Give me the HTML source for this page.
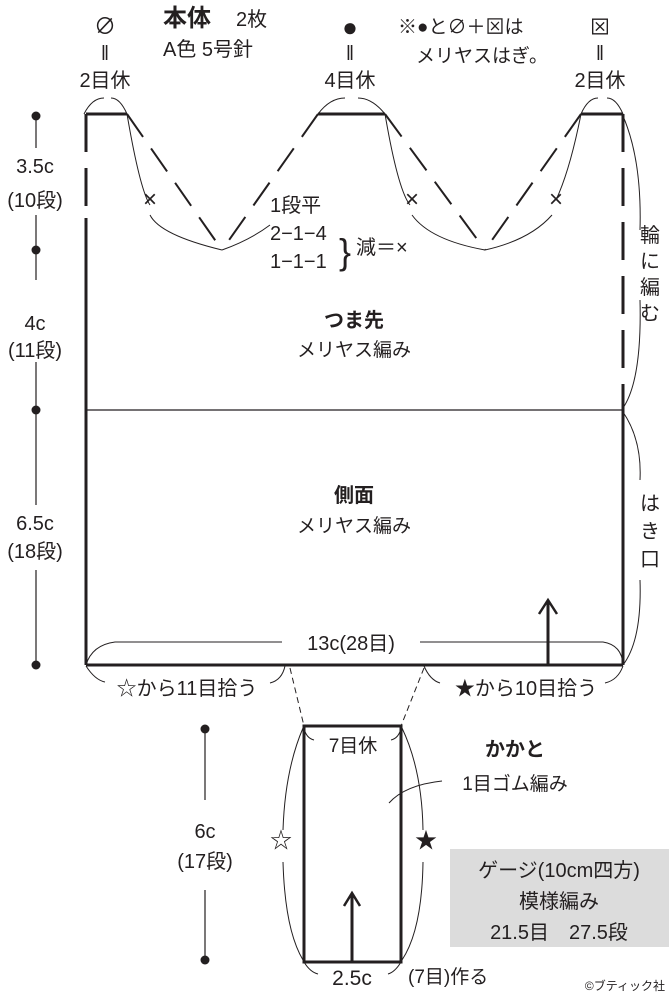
<!DOCTYPE html><html><head><meta charset="utf-8"><style>body{margin:0;background:#fff}svg{display:block}text{font-family:"Liberation Sans","Noto Sans CJK JP",sans-serif;fill:#231f20}</style></head><body>
<svg width="669" height="995" viewBox="0 0 669 995" xmlns="http://www.w3.org/2000/svg">
<g stroke="#231f20" fill="none">
<path d="M86 114H127M318 114H385M581 114H623" stroke-width="3"/>
<path d="M127 114L222 250M318 114L222 250M385 114L485 250M581 114L485 250" stroke-width="2" stroke-dasharray="28,14"/>
<path d="M86 114V210" stroke-width="3" stroke-dasharray="38,16"/>
<path d="M86 218V665" stroke-width="3"/>
<path d="M623 114V400" stroke-width="3" stroke-dasharray="38,16"/>
<path d="M623 400V665" stroke-width="3"/>
<path d="M86 665H623" stroke-width="3"/>
<path d="M86 410H623" stroke-width="1.2"/>
<path d="M84 114Q92 98 104 98M127 114Q120 98 111 98" stroke-width="1"/>
<path d="M318 114Q330 98 345 98M385 114Q372 98 358 98" stroke-width="1"/>
<path d="M581 114Q588 98 598 98M623 114Q616 98 607 98" stroke-width="1"/>
<path d="M127 114Q140 190 150 205M222 250Q160 235 150 215" stroke-width="1"/>
<path d="M222 250Q250 240 270 225" stroke-width="1"/>
<path d="M385 114Q398 190 410 205M485 250Q430 240 412 215M485 250Q530 240 552 215M581 114Q570 170 556 200" stroke-width="1"/>
<path d="M623 116Q642 160 640 230M640 300Q642 380 623 408" stroke-width="1"/>
<path d="M623 412Q642 440 640 480M640 580Q642 640 623 665" stroke-width="1"/>
<path d="M86 665Q92 645 115 642H282M420 642H603Q622 645 623 665" stroke-width="1"/>
<path d="M86 666Q95 680 105 682M285 666Q282 680 270 683M424 666Q430 680 440 683M623 666Q618 680 605 683" stroke-width="1"/>
<path d="M290 668L304 726M424 668L401 726" stroke-width="1" stroke-dasharray="6,4"/>
<rect x="304" y="726" width="97" height="236" stroke-width="3"/>
<path d="M352 962V895" stroke-width="3"/>
<path d="M344 906L352 893L360 906" stroke-width="2.5"/>
<path d="M548 665V602" stroke-width="3"/>
<path d="M539 614L548 600L557 614" stroke-width="2.5"/>
<path d="M303 728Q285 770 283 830M283 862Q285 930 303 960M402 728Q422 770 423 830M423 862Q422 930 402 960" stroke-width="1"/>
<path d="M304 728Q306 738 314 740M401 728Q399 738 391 740" stroke-width="1"/>
<path d="M304 962Q310 972 318 974M401 962Q395 972 388 974" stroke-width="1"/>
<path d="M389 803Q405 785 442 781" stroke-width="1"/>
<path d="M36 116V148M36 215V280M36 362V505M36 570V665" stroke-width="1.2"/>
<path d="M205 729V800M205 890V960" stroke-width="1.2"/>
</g>
<g fill="#231f20">
<circle cx="36" cy="116" r="4.5"/><circle cx="36" cy="250" r="4.5"/><circle cx="36" cy="410" r="4.5"/><circle cx="36" cy="665" r="4.5"/>
<circle cx="205" cy="729" r="4.5"/><circle cx="205" cy="960" r="4.5"/>
</g>
<rect x="450" y="849" width="219" height="98" fill="#dcdcdc"/>
<g font-size="20" text-anchor="middle">
<text x="105" y="34" font-size="22">∅</text><text x="105" y="60" font-size="20">‖</text><text x="105" y="87">2目休</text>
<text x="350" y="36" font-size="26">●</text><text x="350" y="60" font-size="20">‖</text><text x="350" y="87">4目休</text>
<text x="600" y="34" font-size="20">⊠</text><text x="600" y="60" font-size="20">‖</text><text x="600" y="87">2目休</text>
<text x="163" y="26" font-size="24" font-weight="bold" text-anchor="start">本体</text>
<text x="236" y="26" font-size="20" text-anchor="start">2枚</text>
<text x="163" y="56" font-size="20" text-anchor="start">A色 5号針</text>
<text x="398" y="33" font-size="19" text-anchor="start">※●と∅＋⊠は</text>
<text x="416" y="62" font-size="19" text-anchor="start">メリヤスはぎ。</text>
<text x="150" y="207" font-size="24">×</text><text x="412" y="207" font-size="24">×</text><text x="556" y="207" font-size="24">×</text>
<text x="270" y="212" text-anchor="start">1段平</text>
<text x="270" y="240" text-anchor="start">2−1−4</text>
<text x="270" y="268" text-anchor="start">1−1−1</text>
<text x="339" y="264" font-size="36" text-anchor="start">}</text>
<text x="356" y="254" text-anchor="start">減＝×</text>
<text x="35" y="173">3.5c</text><text x="35" y="207">(10段)</text>
<text x="35" y="330">4c</text><text x="35" y="357">(11段)</text>
<text x="35" y="530">6.5c</text><text x="35" y="558">(18段)</text>
<text x="650" y="242">輪</text><text x="650" y="268">に</text><text x="650" y="294">編</text><text x="650" y="320">む</text>
<text x="650" y="510">は</text><text x="650" y="538">き</text><text x="650" y="566">口</text>
<text x="354" y="327" font-weight="bold">つま先</text>
<text x="354" y="356" font-size="19">メリヤス編み</text>
<text x="354" y="502" font-weight="bold">側面</text>
<text x="354" y="532" font-size="19">メリヤス編み</text>
<text x="351" y="650">13c(28目)</text>
<text x="187" y="695">☆から11目拾う</text>
<text x="526" y="695">★から10目拾う</text>
<text x="353" y="752" font-size="19">7目休</text>
<text x="515" y="756" font-weight="bold">かかと</text>
<text x="515" y="790" font-size="19">1目ゴム編み</text>
<text x="205" y="838">6c</text><text x="205" y="868">(17段)</text>
<text x="281" y="848" font-size="22">☆</text><text x="426" y="848" font-size="22">★</text>
<text x="559" y="877">ゲージ(10cm四方)</text>
<text x="559" y="908">模様編み</text>
<text x="559" y="939">21.5目　27.5段</text>
<text x="352" y="985" font-size="21">2.5c</text>
<text x="408" y="983" font-size="19" text-anchor="start">(7目)作る</text>
<text x="665" y="990" font-size="12" text-anchor="end">©ブティック社</text>
</g>
</svg>
</body></html>
